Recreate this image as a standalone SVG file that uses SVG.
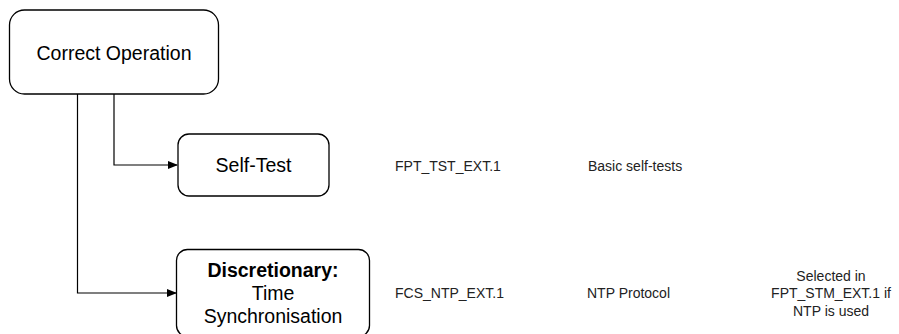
<svg xmlns="http://www.w3.org/2000/svg" width="899" height="334" viewBox="0 0 899 334">
<defs>
<style>
.box{fill:#fff;stroke:#000;stroke-width:1.3}
.t{font-family:"Liberation Sans",Arial,sans-serif;fill:#000}
.big{font-size:19.5px}
.sm{font-size:14px;fill:#222}
.ln{fill:none;stroke:#000;stroke-width:1.2}
</style>
<marker id="ah" markerWidth="10" markerHeight="8" refX="9" refY="4" orient="auto" markerUnits="userSpaceOnUse">
<path d="M0,0 L10,4 L0,8 Z" fill="#000"/>
</marker>
</defs>
<rect width="899" height="334" fill="#fff"/>
<g id="connectors">
<path class="ln" d="M114,94 V165 H177" marker-end="url(#ah)"/>
<path class="ln" d="M77.5,94 V293 H176" marker-end="url(#ah)"/>
</g>
<g id="correct-operation">
<rect class="box" x="9.5" y="10" width="209" height="84" rx="15"/>
<text class="t big" x="114" y="60" text-anchor="middle">Correct Operation</text>
</g>
<g id="self-test">
<rect class="box" x="178" y="134" width="151" height="62" rx="11"/>
<text class="t big" x="253.5" y="172" text-anchor="middle">Self-Test</text>
</g>
<g id="time-sync">
<rect class="box" x="176.5" y="249.5" width="193" height="87" rx="11"/>
<text class="t big" x="273" y="277" text-anchor="middle" font-weight="bold">Discretionary:</text>
<text class="t big" x="273" y="300" text-anchor="middle">Time</text>
<text class="t big" x="273" y="323" text-anchor="middle">Synchronisation</text>
</g>
<g id="row1">
<text class="t sm" x="395" y="171">FPT_TST_EXT.1</text>
<text class="t sm" x="588" y="171">Basic self-tests</text>
</g>
<g id="row2">
<text class="t sm" x="395" y="298">FCS_NTP_EXT.1</text>
<text class="t sm" x="587" y="298">NTP Protocol</text>
<text class="t sm" x="831" y="281" text-anchor="middle">Selected in</text>
<text class="t sm" x="831" y="298" text-anchor="middle">FPT_STM_EXT.1 if</text>
<text class="t sm" x="831" y="316" text-anchor="middle">NTP is used</text>
</g>
</svg>
